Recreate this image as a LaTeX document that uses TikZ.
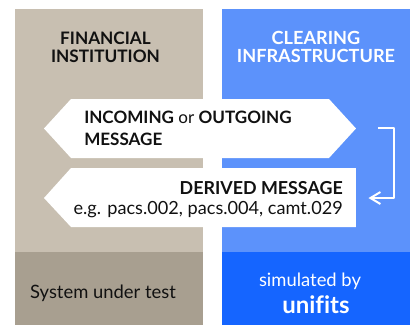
\documentclass[tikz,border=0pt]{standalone}
\usepackage{fontspec}
\setmainfont{Lato}
\usetikzlibrary{arrows.meta}
\definecolor{sandlight}{HTML}{C8BFB1}
\definecolor{sanddark}{HTML}{A89F90}
\definecolor{bluelight}{HTML}{5C92FB}
\definecolor{bluedark}{HTML}{1565FF}
\definecolor{inkblack}{HTML}{111111}
\tikzset{
	title/.style={align=center,inner sep=0pt},
	msgtext/.style={font=\fontsize{12.8}{16}\selectfont,text=inkblack,inner sep=0pt},
	plaintext/.style={font=\fontsize{13.8}{15}\selectfont,inner sep=0pt},
	msgarrow/.style={fill=white,draw=none},
}
\begin{document}
\begin{tikzpicture}[x=0.75pt,y=-0.75pt,line join=round,>={Straight Barb[length=7.5pt,width=9pt]}]
	\useasboundingbox (0,0) rectangle (412,325);
	% Left column
	\fill[sandlight] (15,9) rectangle (203,252);
	\fill[sanddark] (15,252) rectangle (203,325);
	% Right column
	\fill[bluelight] (222,9) rectangle (410,252);
	\fill[bluedark] (222,252) rectangle (410,325);
	% Message shapes
	\fill[msgarrow] (44,128.5) -- (71,99) -- (329,99) -- (356,128.5) -- (329,158) -- (71,158) -- cycle;
	\fill[msgarrow] (44,198) -- (71,168) -- (356,168) -- (356,227) -- (71,227) -- cycle;
	% Column titles
	\node[title,text=inkblack,font=\fontsize{12.9}{13.5}\selectfont\bfseries] (institution) at (105.5,47) {FINANCIAL\\INSTITUTION};
	\node[title,text=white,font=\fontsize{13.6}{13.5}\selectfont\bfseries] (clearing) at (316,47) {CLEARING\\INFRASTRUCTURE};
	% Message texts
	\node[msgtext,anchor=base west] (incoming) at (84,123) {\textbf{INCOMING} or \textbf{OUTGOING}};
	\node[msgtext,anchor=base west] (incomingb) at (84,145) {\textbf{MESSAGE}};
	\node[msgtext,font=\fontsize{13.4}{16}\selectfont,anchor=base east] (derived) at (343,194) {\textbf{DERIVED MESSAGE}};
	\node[msgtext,font=\fontsize{13.6}{16}\selectfont,anchor=base east] (examples) at (343,214) {e.g. pacs.002, pacs.004, camt.029};
	% Bottom texts
	\node[plaintext,text=inkblack,anchor=base] (system) at (103,298) {System under test};
	\node[plaintext,text=white,anchor=base] (simulated) at (310,286) {simulated by};
	\node[font=\fontsize{18}{18}\selectfont\bfseries,text=white,inner sep=0pt,anchor=base] (unifits) at (316,313) {unif\kern0pt its};
	% Return arrow
	\coordinate (retstart) at (378,128);
	\coordinate (retcorner) at (394.5,128);
	\coordinate (retlow) at (394.5,198);
	\coordinate (retend) at (368.5,198);
	\draw[->,white,line width=1.5pt] (retstart) -- (retcorner) -- (retlow) -- (retend);
\end{tikzpicture}
\end{document}
